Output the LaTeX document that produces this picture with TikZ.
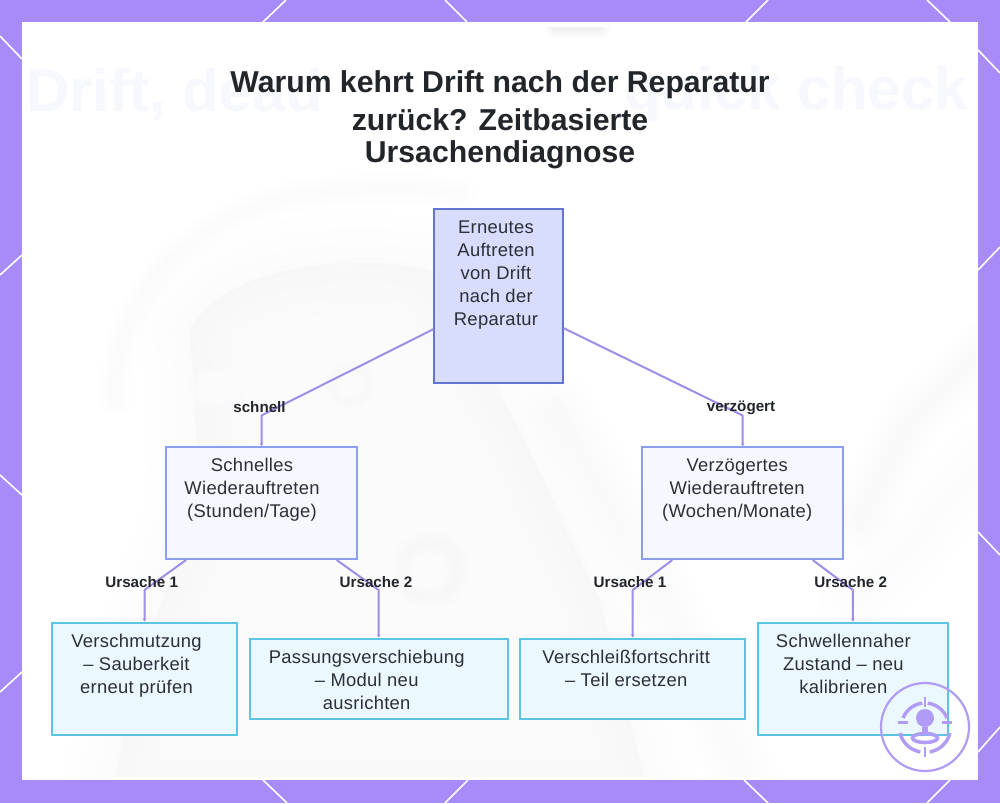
\documentclass[tikz,border=0pt]{standalone}
\usepackage{fontspec}
\setmainfont{Liberation Sans}
\usetikzlibrary{calc,arrows.meta}
\definecolor{framepurple}{HTML}{A78BF8}
\definecolor{inkdark}{HTML}{22262B}
\definecolor{bodyink}{HTML}{2C3036}
\definecolor{linkviolet}{HTML}{A08DE6}
\definecolor{rootfill}{HTML}{D8DCFD}
\definecolor{rootline}{HTML}{6274D8}
\definecolor{midfill}{HTML}{F6F8FF}
\definecolor{midline}{HTML}{8C9EEE}
\definecolor{leaffill}{HTML}{ECF8FF}
\definecolor{leafline}{HTML}{5CC4E4}
\definecolor{logoviolet}{HTML}{B09CF6}
\definecolor{ghosttext}{HTML}{F6F8FE}
\newfontfamily\bodyfont[LetterSpace=1.6]{Liberation Sans}
\newcommand{\bxt}[3]{\makebox[0pt][c]{\hspace*{\dimexpr 2\dimexpr #1pt\relax\relax}\raisebox{#2pt}[0pt][0pt]{\bodyfont\fontsize{18.4}{23}\selectfont\begin{tabular}[c]{@{}c@{}}#3\end{tabular}}}}
\newcommand{\softstroke}[3]{\foreach \w in {#2}{\draw[black,opacity=#3,line width=\w pt,line cap=round,line join=round] #1;}}
\newcommand{\softfill}[2]{\foreach \w in {10,40,70,100}{\fill[black,opacity=#2] [draw=black,line width=\w pt,line join=round] #1;}}
\tikzset{
  rootbox/.style={draw=rootline,fill=rootfill,line width=2pt,inner sep=0pt,text=bodyink},
  midbox/.style={draw=midline,fill=midfill,line width=2pt,inner sep=0pt,text=bodyink},
  leafbox/.style={draw=leafline,fill=leaffill,line width=2pt,inner sep=0pt,text=bodyink},
  conn/.style={draw=linkviolet,line width=2pt,line join=round,-{Latex[length=3pt,width=4pt]}},
  edgelabel/.style={font=\fontsize{15.2}{17}\selectfont\bfseries,text=inkdark,inner sep=0pt},
  deco/.style={draw=white,line width=1.6pt},
  logoline/.style={draw=logoviolet,line width=2.2pt},
}
\begin{document}
\begin{tikzpicture}[x=1pt,y=-1pt]
\useasboundingbox (0,0) rectangle (1000,803);
\fill[framepurple] (0,0) rectangle (1000,803);
\foreach \a/\b/\c/\d in {263/22/286/0,445/0/467/22,746/22/768/0,927/0/950/22,
  0/36/22/59,22/255/0/275,0/475/22/495,22/672/0/692,
  978/50/1000/73,978/270/1000/247,978/532/1000/555,978/752/1000/727,
  950/780/927/803,744/780/768/803,263/780/287/803,468/780/445/803}
  {\draw[deco] (\a,\b) -- (\c,\d);}
\fill[white] (22,22) rectangle (978,780);
\begin{scope}
\clip (24,27) rectangle (976,776);
% faint backdrop
\softfill{(190,330) .. controls (220,270) and (340,250) .. (430,270) -- (520,430) -- (600,600) -- (650,800) -- (110,800) -- (140,660) -- (200,500) -- cycle}{0.004}
\softstroke{(115,400) .. controls (110,300) and (190,215) .. (300,195) .. controls (370,185) and (420,185) .. (460,195)}{8,16,24,32}{0.004}
\softstroke{(560,410) -- (650,570) -- (745,780)}{14,28,42,56,70}{0.004}
\softstroke{(985,350) -- (910,420) -- (860,520)}{10,20,30,40,50,60}{0.004}
\softstroke{(985,460) -- (860,600)}{20,50,80}{0.004}
\softstroke{(555,28) -- (600,28)}{4,8,12,16,20}{0.012}
\softstroke{(430,570) circle[radius=28]}{6,12,18,24}{0.004}
\softstroke{(350,385) circle[radius=18]}{5,10,15}{0.004}
\foreach \r in {4,8,...,20}{\fill[white,opacity=.2] (210,388) ellipse[x radius=\r*1.3,y radius=\r];}
\foreach \r in {4,8,...,16}{\fill[white,opacity=.2] (345,250) ellipse[x radius=\r,y radius=\r*1.5];}
\node[font=\fontsize{60}{60}\selectfont\bfseries,text=ghosttext,anchor=west,inner sep=0pt] (ghostleft) at (26,94) {Drift, dead};
\node[font=\fontsize{60}{60}\selectfont\bfseries,text=ghosttext,anchor=east,inner sep=0pt] (ghostright) at (968,94) {quick check};
\end{scope}
\node[font=\fontsize{30.2}{32}\selectfont\bfseries,text=inkdark,align=center,inner sep=0pt] (title) at (500,120)
  {Warum kehrt Drift nach der Reparatur\\[6pt]zurück? Zeitbasierte\\Ursachendiagnose};
% boxes
\node[rootbox,minimum width=128.4pt,minimum height=174.4pt] (root) at (498.5,296.2)
  {\bxt{-2.5}{16.5}{Erneutes\\Auftreten\\von Drift\\nach der\\Reparatur}};
\node[midbox,minimum width=190.4pt,minimum height=111.7pt] (fast) at (261.5,503.2)
  {\bxt{-9.5}{9}{Schnelles\\Wiederauftreten\\(Stunden/Tage)}};
\node[midbox,minimum width=201.3pt,minimum height=111.7pt] (slow) at (742.7,503.2)
  {\bxt{-5.5}{9}{Verzögertes\\Wiederauftreten\\(Wochen/Monate)}};
\node[leafbox,minimum width=185.6pt,minimum height=112pt] (dirt) at (144.5,678.7)
  {\bxt{-8}{8}{Verschmutzung\\– Sauberkeit\\erneut prüfen}};
\node[leafbox,minimum width=258pt,minimum height=80.3pt] (fit) at (378.7,678.85)
  {\bxt{-12}{-7}{Passungsverschiebung\\– Modul neu\\ausrichten}};
\node[leafbox,minimum width=225.3pt,minimum height=80.3pt] (wear) at (632.7,678.85)
  {\bxt{-6.5}{4}{Verschleißfortschritt\\– Teil ersetzen}};
\node[leafbox,minimum width=190.3pt,minimum height=112pt] (thresh) at (852.85,678.7)
  {\bxt{-9.5}{8}{Schwellennaher\\Zustand – neu\\kalibrieren}};
% connectors
\coordinate (k1) at (261.5,415.5);
\coordinate (k2) at (742.7,415.5);
\coordinate (k3) at (144.5,590);
\coordinate (k4) at (378.7,590);
\coordinate (k5) at (632.7,590);
\coordinate (k6) at (852.85,590);
\draw[conn] ([yshift=-33pt]root.west) -- (k1) -- (fast.north);
\draw[conn] ([yshift=-32pt]root.east) -- (k2) -- (slow.north);
\draw[conn] ([xshift=-75.5pt]fast.south) -- (k3) -- (dirt.north);
\draw[conn] ([xshift=75.2pt]fast.south) -- (k4) -- (fit.north);
\draw[conn] ([xshift=-70.4pt]slow.south) -- (k5) -- (wear.north);
\draw[conn] ([xshift=70pt]slow.south) -- (k6) -- (thresh.north);
% edge labels
\node[edgelabel] (l1) at (259.5,407) {schnell};
\node[edgelabel] (l2) at (741,408) {verzögert};
\node[edgelabel] (l3) at (141.7,582) {Ursache 1};
\node[edgelabel] (l4) at (376,582) {Ursache 2};
\node[edgelabel] (l5) at (630,582) {Ursache 1};
\node[edgelabel] (l6) at (850.7,582) {Ursache 2};
% logo
\begin{scope}[shift={(925,727)}]
\draw[logoline] (0,0) circle[radius=44];
\fill[logoviolet] (0,-9) circle[radius=9];
\draw[logoline,line width=2.6pt] (0,-30) -- (0,-20);
\draw[logoline,line width=2.6pt] (0,20) -- (0,30);
\draw[logoline,line width=2.6pt] (-27,-4.5) -- (-17,-4.5);
\draw[logoline,line width=2.6pt] (17,-4.5) -- (27,-4.5);
\draw[logoline,line width=3.4pt] (-22,-9) arc[start angle=202,end angle=263,radius=24];
\draw[logoline,line width=3.4pt] (22,-9) arc[start angle=-22,end angle=-83,radius=24];
\draw[logoline,line width=3.4pt] (-25,6) arc[start angle=166,end angle=100,radius=25.5];
\draw[logoline,line width=3.4pt] (25,6) arc[start angle=14,end angle=80,radius=25.5];
\fill[logoviolet] (-3,0) rectangle (3,6);
\draw[logoline,line width=3.6pt] (0,11) ellipse[x radius=12.5,y radius=4.5];
\end{scope}
\end{tikzpicture}
\end{document}
